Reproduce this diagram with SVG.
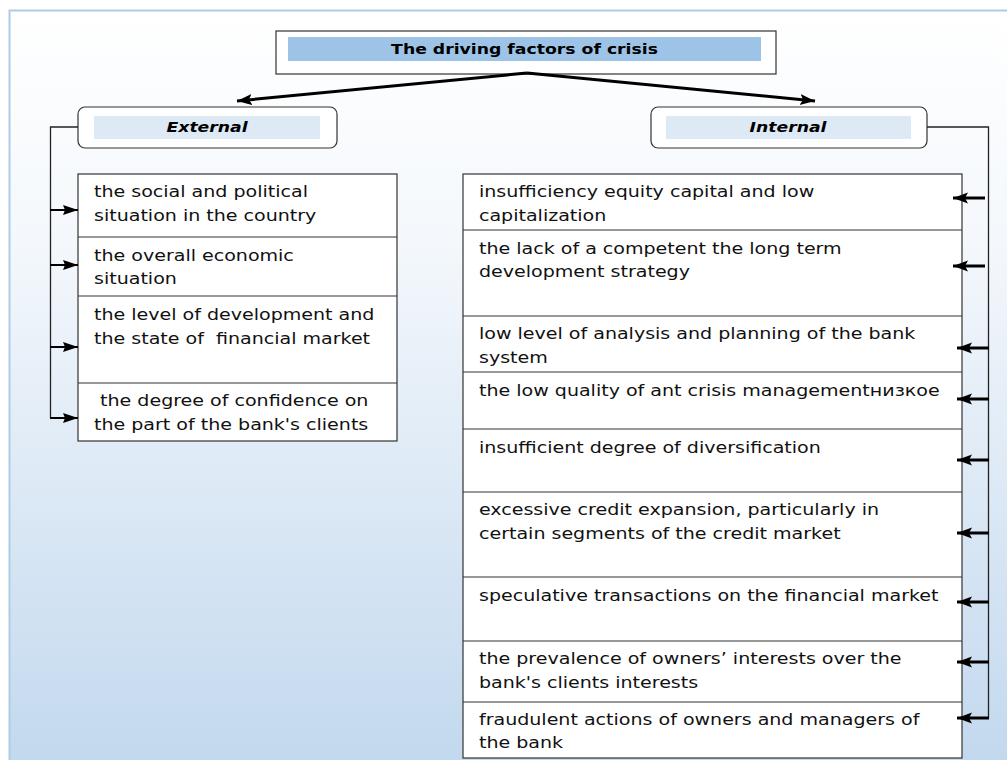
<svg xmlns="http://www.w3.org/2000/svg" width="1007" height="760" viewBox="0 0 1007 760" xml:space="preserve">
<defs>
<linearGradient id="bg" x1="0" y1="0" x2="0" y2="1">
<stop offset="0" stop-color="#ffffff"/>
<stop offset="0.3" stop-color="#f4f8fc"/>
<stop offset="1" stop-color="#c2d8ee"/>
</linearGradient>
<marker id="ah" markerUnits="userSpaceOnUse" markerWidth="16" markerHeight="12" refX="15" refY="6" orient="auto">
<path d="M0,0.5 L15,6 L0,11.5 L3,6 Z" fill="#000"/>
</marker>
<marker id="ahs" markerUnits="userSpaceOnUse" markerWidth="16" markerHeight="12" refX="15" refY="6" orient="auto">
<path d="M0,1 L15,6 L0,11 L2,6 Z" fill="#000"/>
</marker>
</defs>
<style>
.box{fill:#ffffff;stroke:#333333;stroke-width:1.2}
.div{stroke:#333333;stroke-width:1.2}
.bar1{fill:#9dc3e6}
.bar2{fill:#dde9f5}
.t{font-family:"DejaVu Sans",Verdana,sans-serif;font-size:16px;fill:#111;white-space:pre}
.title{font-family:"DejaVu Sans",Verdana,sans-serif;font-size:14.5px;font-weight:bold;fill:#000;text-anchor:middle}
.hd{font-family:"DejaVu Sans",Verdana,sans-serif;font-size:14.5px;font-weight:bold;font-style:italic;fill:#000;text-anchor:middle}
.bus{fill:none;stroke:#222;stroke-width:1.3}
.thick{fill:none;stroke:#000;stroke-width:3}
.arr{fill:none;stroke:#000;stroke-width:2}
.arrR{fill:none;stroke:#000;stroke-width:3}
</style>
<rect x="0" y="0" width="1007" height="760" fill="#ffffff"/>
<rect x="9.5" y="10.5" width="1010" height="760" fill="url(#bg)" stroke="#aecbe8" stroke-width="2"/>

<g id="title">
<rect class="box" x="276" y="31" width="500" height="43"/>
<rect class="bar1" x="288" y="37" width="473" height="24"/>
<g transform="scale(1.19 1)"><text class="title" x="440.8" y="54">The driving factors of crisis</text></g>
</g>

<g id="external">
<rect class="box" x="78" y="107" width="259" height="41" rx="7"/>
<rect class="bar2" x="94" y="116" width="226" height="23"/>
<g transform="scale(1.19 1)"><text class="hd" x="174" y="132">External</text></g>
</g>

<g id="internal">
<rect class="box" x="651" y="107" width="276" height="41" rx="7"/>
<rect class="bar2" x="666" y="116" width="245" height="23"/>
<g transform="scale(1.19 1)"><text class="hd" x="662.2" y="132">Internal</text></g>
</g>

<g id="ext-list">
<rect class="box" x="78" y="174" width="319" height="267"/>
<line class="div" x1="78" y1="237" x2="397" y2="237"/>
<line class="div" x1="78" y1="296" x2="397" y2="296"/>
<line class="div" x1="78" y1="383" x2="397" y2="383"/>
<g transform="scale(1.19 1)">
<text class="t" x="79" y="197">the social and political</text>
<text class="t" x="79" y="221">situation in the country</text>
<text class="t" x="79" y="261">the overall economic</text>
<text class="t" x="79" y="284">situation</text>
<text class="t" x="79" y="320">the level of development and</text>
<text class="t" x="79" y="344">the state of  financial market</text>
<text class="t" x="79" y="406"> the degree of confidence on</text>
<text class="t" x="79" y="430">the part of the bank's clients</text>
</g>
</g>

<g id="int-list">
<rect class="box" x="463" y="174" width="499" height="584"/>
<line class="div" x1="463" y1="230" x2="962" y2="230"/>
<line class="div" x1="463" y1="316" x2="962" y2="316"/>
<line class="div" x1="463" y1="372" x2="962" y2="372"/>
<line class="div" x1="463" y1="429" x2="962" y2="429"/>
<line class="div" x1="463" y1="492" x2="962" y2="492"/>
<line class="div" x1="463" y1="577" x2="962" y2="577"/>
<line class="div" x1="463" y1="641" x2="962" y2="641"/>
<line class="div" x1="463" y1="702" x2="962" y2="702"/>
<g transform="scale(1.19 1)">
<text class="t" x="402.5" y="197">insufficiency equity capital and low</text>
<text class="t" x="402.5" y="221">capitalization</text>
<text class="t" x="402.5" y="254">the lack of a competent the long term</text>
<text class="t" x="402.5" y="277">development strategy</text>
<text class="t" x="402.5" y="339">low level of analysis and planning of the bank</text>
<text class="t" x="402.5" y="363">system</text>
<text class="t" x="402.5" y="396">the low quality of ant crisis managementнизкое</text>
<text class="t" x="402.5" y="453">insufficient degree of diversification</text>
<text class="t" x="402.5" y="515">excessive credit expansion, particularly in</text>
<text class="t" x="402.5" y="539">certain segments of the credit market</text>
<text class="t" x="402.5" y="601">speculative transactions on the financial market</text>
<text class="t" x="402.5" y="664">the prevalence of owners’ interests over the</text>
<text class="t" x="402.5" y="688">bank's clients interests</text>
<text class="t" x="402.5" y="725">fraudulent actions of owners and managers of</text>
<text class="t" x="402.5" y="748">the bank</text>
</g>
</g>

<g id="connectors">
<line class="thick" x1="527" y1="73" x2="237" y2="101" marker-end="url(#ah)"/>
<line class="thick" x1="527" y1="73" x2="815" y2="101" marker-end="url(#ah)"/>
<polyline class="bus" points="78,127 50.5,127 50.5,418"/>
<line class="arr" x1="50" y1="210" x2="78" y2="210" marker-end="url(#ahs)"/>
<line class="arr" x1="50" y1="265" x2="78" y2="265" marker-end="url(#ahs)"/>
<line class="arr" x1="50" y1="347" x2="78" y2="347" marker-end="url(#ahs)"/>
<line class="arr" x1="50" y1="418" x2="78" y2="418" marker-end="url(#ahs)"/>
<polyline class="bus" points="927,127 988.5,127 988.5,718"/>
<line class="arrR" x1="985" y1="198" x2="953" y2="198" marker-end="url(#ah)"/>
<line class="arrR" x1="985" y1="266" x2="953" y2="266" marker-end="url(#ah)"/>
<line class="arrR" x1="989" y1="348" x2="957" y2="348" marker-end="url(#ah)"/>
<line class="arrR" x1="989" y1="399" x2="957" y2="399" marker-end="url(#ah)"/>
<line class="arrR" x1="989" y1="460" x2="957" y2="460" marker-end="url(#ah)"/>
<line class="arrR" x1="989" y1="533" x2="957" y2="533" marker-end="url(#ah)"/>
<line class="arrR" x1="989" y1="602" x2="957" y2="602" marker-end="url(#ah)"/>
<line class="arrR" x1="989" y1="662" x2="957" y2="662" marker-end="url(#ah)"/>
<line class="arrR" x1="989" y1="718" x2="957" y2="718" marker-end="url(#ah)"/>
</g>
</svg>
